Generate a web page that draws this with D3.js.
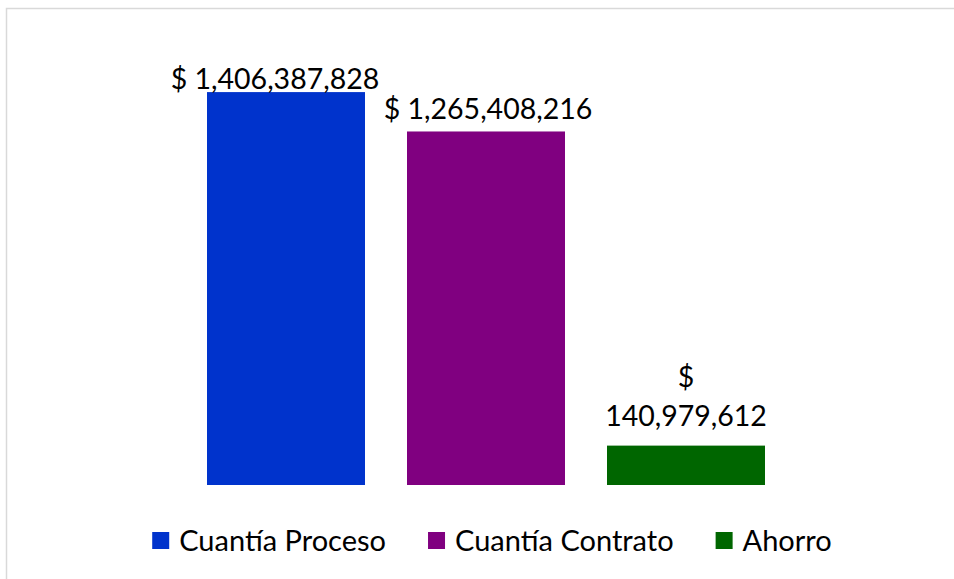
<!DOCTYPE html>
<html>
<head>
<meta charset="utf-8">
<script src="https://cdn.jsdelivr.net/npm/d3@7"></script>
<style>
  html, body { margin: 0; padding: 0; background: #fff; }
  svg { display: block; font-family: Lato, "Open Sans", sans-serif; }
</style>
</head>
<body>
<div id="chart"></div>
<script>
//Datos del gráfico
const categorias = ['Cuantía Proceso', 'Cuantía Contrato', 'Ahorro'];
const valores = [1406387828, 1265408216, 140979612];
const colores = ['#0033CC', '#800080', '#006600'];
const ejeMax = 1600000000;

const width = 954, height = 579;

let svg = d3.select('#chart')
    .append('svg')
      .attr('width', width)
      .attr('height', height);

//Marco del gráfico
svg.append('rect')
    .attr('x', 6.5)
    .attr('y', 8.5)
    .attr('width', width + 20)
    .attr('height', height + 20)
    .attr('fill', '#fff')
    .attr('stroke', '#d9d9d9')
    .attr('stroke-width', 1.5);

//Eje X
let x = d3.scaleBand()
    .domain(categorias)
    .range([186, 786])
    .paddingInner(0.21)
    .paddingOuter(0.105);

//Eje Y
let y = d3.scaleLinear()
    .domain([0, ejeMax])
    .range([485, 38]);

let datos = categorias.map(function(c, i) { return { cat: c, valor: valores[i], color: colores[i] }; });

//Barras
svg.selectAll('.bar')
    .data(datos)
    .enter()
    .append('rect')
      .attr('class', 'bar')
      .attr('x', function(d) { return x(d.cat); })
      .attr('y', function(d) { return y(d.valor); })
      .attr('width', x.bandwidth())
      .attr('height', function(d) { return y(0) - y(d.valor); })
      .attr('fill', function(d) { return d.color; });

//Etiquetas
let fmt = d3.format(',');
datos.forEach(function(d, i) {
    let cx = x(d.cat) + x.bandwidth() / 2;
    let top = y(d.valor);
    let txt = svg.append('text')
        .attr('text-anchor', 'middle')
        .attr('font-size', '28.5px')
        .attr('fill', '#000');
    if (i == 2) {
        //La etiqueta del ahorro va partida en dos líneas
        txt.append('tspan').attr('x', cx).attr('y', top - 59).text('$');
        txt.append('tspan').attr('x', cx).attr('y', top - 20).text(fmt(d.valor));
    } else {
        let base = Math.max(top - 12.5, 89);
        txt.attr('x', i == 0 ? cx - 11 : cx + 2)
            .attr('y', base)
            .text('$ ' + fmt(d.valor));
    }
});

//Leyenda
let legend = svg.append('g');
let posX = 0;
datos.forEach(function(d, i) {
    let g = legend.append('g').attr('transform', 'translate(' + posX + ',0)');
    g.append('rect')
        .attr('x', 0)
        .attr('y', 532)
        .attr('width', 17)
        .attr('height', 17)
        .attr('fill', d.color);
    let t = g.append('text')
        .attr('x', 27)
        .attr('y', 551)
        .attr('font-size', '29px')
        .attr('fill', '#000')
        .text(d.cat);
    posX += 27 + t.node().getComputedTextLength() + 42;
});
let totalW = posX - 42;
legend.attr('transform', 'translate(' + (492 - totalW / 2) + ',0)');
</script>
</body>
</html>
